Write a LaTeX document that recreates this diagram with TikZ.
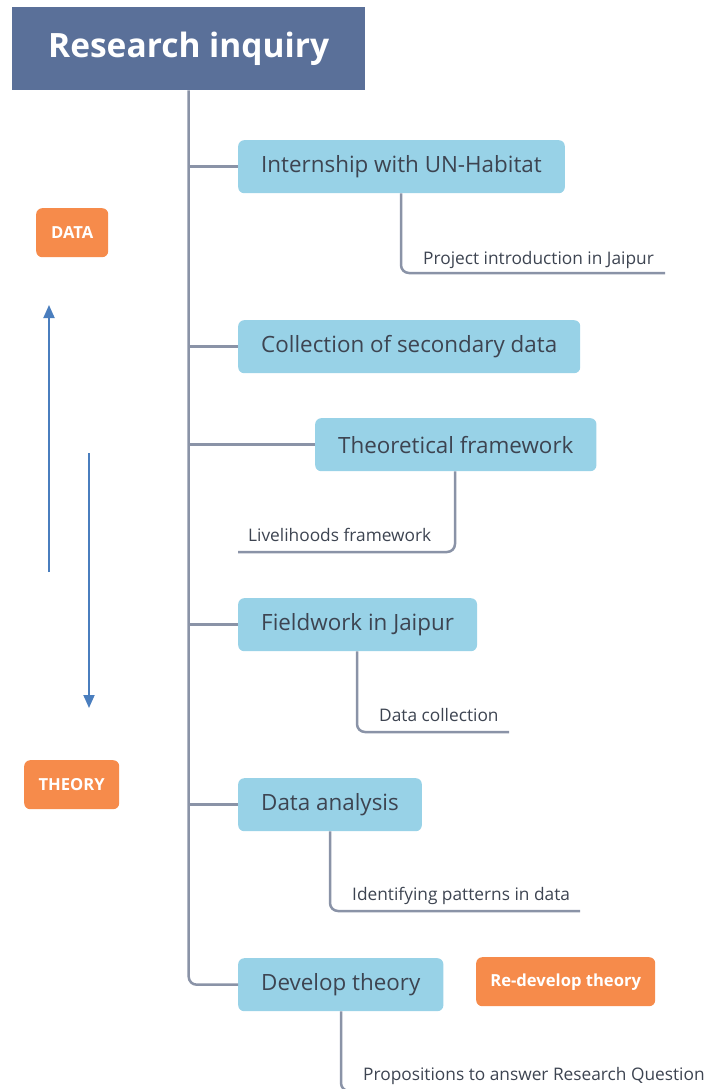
\documentclass[tikz,border=0pt]{standalone}
\usepackage{fontspec}
\setmainfont{Open Sans}
\usepackage{tikz}
\usepackage{xcolor}
\usetikzlibrary{arrows.meta,positioning,calc}

\definecolor{titleblue}{RGB}{90,112,153}
\definecolor{boxblue}{RGB}{152,210,231}
\definecolor{tagorange}{RGB}{246,139,75}
\definecolor{linegray}{RGB}{138,147,167}
\definecolor{arrowblue}{RGB}{74,126,190}
\definecolor{textgray}{RGB}{61,68,81}

\begin{document}
\begin{tikzpicture}[x=1pt, y=-1pt,
    stagebox/.style={fill=boxblue, rounded corners=6pt, minimum height=53pt, inner xsep=23pt, inner ysep=0pt, anchor=north west, text=textgray, font=\fontsize{22.4}{26}\selectfont},
    tagbox/.style={fill=tagorange, rounded corners=6pt, minimum height=49pt, inner sep=0pt, anchor=north west, text=white, font=\bfseries\fontsize{16.6}{20}\selectfont},
    sublabel/.style={anchor=base west, inner sep=0pt, text=textgray, font=\fontsize{17.3}{20}\selectfont},
    link/.style={draw=linegray, line width=2.5pt, rounded corners=8pt},
    flow/.style={draw=arrowblue, line width=1.8pt, -{Triangle[width=11pt,length=13pt]}}]
    \useasboundingbox (0,0) rectangle (706,1089);

    \node[fill=titleblue, minimum width=353pt, minimum height=83pt, inner sep=0pt, anchor=north west, text=white, font=\bfseries\fontsize{33.5}{38}\selectfont] (title) at (12,7) {Research inquiry};

    % stages
    \node[stagebox] (intern) at (238,140) {Internship with UN-Habitat};
    \node[stagebox] (second) at (238,320) {Collection of secondary data};
    \node[stagebox] (theo) at (315,418) {Theoretical framework};
    \node[stagebox] (field) at (238,598) {Fieldwork in Jaipur};
    \node[stagebox] (analysis) at (238,778) {Data analysis};
    \node[stagebox] (develop) at (238,958) {Develop theory};

    % orange tags
    \node[tagbox, minimum width=72pt] (data) at (36,208) {DATA};
    \node[tagbox, minimum width=95pt] (theory) at (24,760) {THEORY};
    \node[tagbox, minimum width=179pt] (redevelop) at (476,957) {Re-develop theory};

    % sub labels
    \node[sublabel] (project) at (423,264) {Project introduction in Jaipur};
    \node[sublabel] (liveli) at (248,541) {Livelihoods framework};
    \node[sublabel] (collect) at (379,721) {Data collection};
    \node[sublabel] (pattern) at (352,900) {Identifying patterns in data};
    \node[sublabel] (propos) at (363,1080) {Propositions to answer Research Question};

    \coordinate (projectEnd) at (665,273);
    \coordinate (liveliEnd) at (238,552);
    \coordinate (collectEnd) at (509,732);
    \coordinate (patternEnd) at (580,911);
    \coordinate (proposEnd) at (706,1091);
    \coordinate (upStart) at (49,572);
    \coordinate (upEnd) at (49,305);
    \coordinate (downStart) at (89,453);
    \coordinate (downEnd) at (89,708);

    % trunk and branches
    \draw[link] (title.south) |- (develop.west);
    \foreach \n in {intern,second,theo,field,analysis}
        \draw[link] (title.south |- \n.west) -- (\n.west);

    % sub branches
    \draw[link] ([xshift=163pt]intern.south west) |- (projectEnd);
    \draw[link] ([xshift=140pt]theo.south west) |- (liveliEnd);
    \draw[link] ([xshift=119pt]field.south west) |- (collectEnd);
    \draw[link] ([xshift=92pt]analysis.south west) |- (patternEnd);
    \draw[link] ([xshift=103pt]develop.south west) |- (proposEnd);

    % data / theory arrows
    \draw[flow] (upStart) -- (upEnd);
    \draw[flow] (downStart) -- (downEnd);
\end{tikzpicture}
\end{document}
